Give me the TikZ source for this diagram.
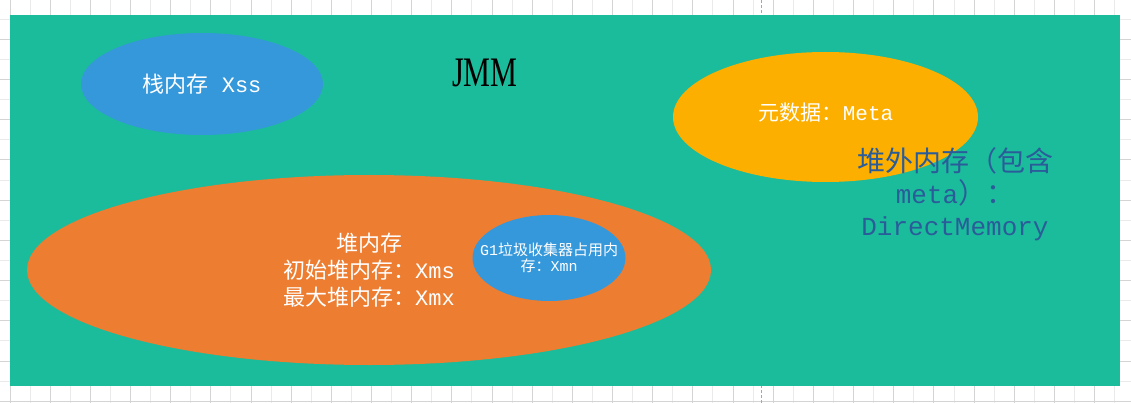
\documentclass[tikz,border=0pt]{standalone}
\usepackage{fontspec}
\usepackage{graphicx}
\usepackage{xcolor}
\setmainfont{Liberation Mono}
\newfontfamily\cjk{Noto Sans CJK SC}
\newfontfamily\jmmfont{Liberation Serif}
\usepackage{tikz}
\usetikzlibrary{shapes.geometric}
\usetikzlibrary{positioning}
\definecolor{sheetteal}{HTML}{1BBC9B}
\definecolor{stackblue}{HTML}{3598DB}
\definecolor{metagold}{HTML}{FDAF00}
\definecolor{heaporange}{HTML}{ED7D31}
\definecolor{offheapblue}{HTML}{2B5C9A}
\definecolor{gridda}{HTML}{D4D4D4}
\definecolor{gridli}{HTML}{EAEAEA}
\tikzstyle{blob} = [ellipse, draw=none, inner sep=0, align=center, text=white]
\tikzstyle{gline} = [line width=1pt]

\begin{document}
\begin{tikzpicture}[x=1pt, y=-1pt]
\useasboundingbox (0,0) rectangle (1131,403);
% spreadsheet grid behind the board
\foreach \k in {0,2,...,54} {
  \draw [gline, draw=gridda] ({10+20.085*\k},0) -- ({10+20.085*\k},403);
  \draw [gline, draw=gridli] ({10+20.085*(\k+1)},0) -- ({10+20.085*(\k+1)},403);
}
\foreach \k in {1,3,...,19} {
  \draw [gline, draw=gridli] (0,{20.1*\k-0.8}) -- (1131,{20.1*\k-0.8});
  \draw [gline, draw=gridda] (0,{20.1*(\k+1)-0.8}) -- (1131,{20.1*(\k+1)-0.8});
}
\draw [gline, draw=black!35, dash pattern=on 3pt off 2pt] (761.7,0) -- (761.7,403);
% board
\node [fill=sheetteal, minimum width=1110, minimum height=371, inner sep=0] (board) at (565,200.5) {};
\node [blob, fill=stackblue, minimum width=242, minimum height=102, font=\fontsize{22}{26}\selectfont] (stack) at (202,84) {{\cjk 栈内存} Xss};
\node [anchor=base, inner sep=0, font=\fontsize{42}{46}\selectfont] (jmm) at (485,87) {\scalebox{0.72}[1]{\jmmfont JMM}};
\node [blob, fill=metagold, minimum width=305, minimum height=130] (meta) at (825.5,117) {};
\node [text=white, inner sep=0, font=\fontsize{21}{25}\selectfont] (metatext) at (826,113) {{\cjk 元数据：}Meta};
\node [text=offheapblue, align=center, inner sep=0, font=\fontsize{26}{32}\selectfont] (offheap) at (955,194) {{\cjk\fontsize{28}{32}\selectfont 堆外内存（包含}\\meta{\cjk\fontsize{28}{32}\selectfont ）：}\\DirectMemory};
\node [blob, fill=heaporange, minimum width=684, minimum height=190, font=\fontsize{22}{27}\selectfont] (heap) at (369,270) {{\cjk 堆内存}\\{\cjk 初始堆内存：}Xms\\{\cjk 最大堆内存：}Xmx};
\node [blob, fill=stackblue, minimum width=153, minimum height=86] (g1) at (549,258) {};
\node [text=white, align=center, inner sep=0, font=\fontsize{15}{16}\selectfont] (g1text) at (g1) {G1{\cjk 垃圾收集器占用内}\\{\cjk 存：}Xmn};
\end{tikzpicture}
\end{document}
